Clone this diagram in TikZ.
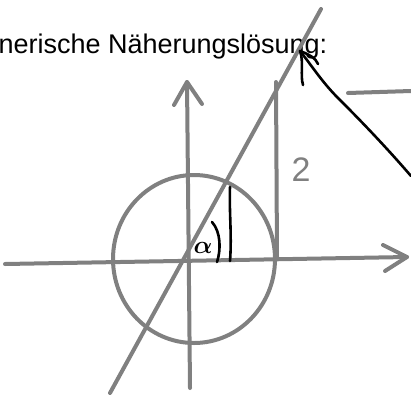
\documentclass[tikz,border=0pt]{standalone}
\usepackage{fontspec}
\setmainfont{Liberation Sans}
\begin{document}
\begin{tikzpicture}[x=1pt,y=-1pt,
  sketch/.style={draw=gray,line width=4pt,line cap=round,line join=round},
  ink/.style={draw=black,line width=2.6pt,line cap=round,line join=round}]
\useasboundingbox (0,0) rectangle (411,394);
% title
\node[anchor=base east,inner sep=0pt,font=\fontsize{27}{30}\selectfont] (title) at (327.5,53) {nerische Näherungslösung:};
% coordinates
\coordinate (xl) at (5,264);
\coordinate (xr) at (407,257);
\coordinate (yb) at (190,388);
\coordinate (yt) at (187,82);
\coordinate (dl) at (110,393);
\coordinate (du) at (321,9);
\coordinate (tt) at (276,82);
\coordinate (tb) at (277,258);
% axes
\draw[sketch] (xl) -- (xr);
\draw[sketch] (383,245) -- (xr) -- (385,271);
\draw[sketch] (yb) -- (yt);
\draw[sketch] (174,105) -- (yt) -- (202,104);
% circle
\draw[sketch] (194,259) ellipse [x radius=81, y radius=84];
% diagonal
\draw[sketch] (dl) -- (du);
% tangent segment
\draw[sketch] (tt) -- (tb);
% short line at top right
\draw[sketch] (348,93) -- (411,91);
% label 2
\node[text=gray,font=\fontsize{34}{36}\selectfont,inner sep=0pt] (two) at (301,170) {2};
% alpha
\node[font=\fontsize{27}{28}\selectfont\boldmath,inner sep=0pt] (alpha) at (203,248) {$\alpha$};
% paren arc
\draw[ink] (212,222) .. controls (221,232) and (221,250) .. (217,262);
% black vertical
\draw[ink] (230,187) .. controls (229,210) and (232,235) .. (230,261);
% black arrow
\coordinate (tip) at (300,51);
\draw[ink] (411,176) .. controls (380,140) and (350,110) .. (338,98)
  .. controls (322,82) and (312,66) .. (tip);
\draw[ink] (tip) .. controls (304,62) and (300,75) .. (303,85);
\draw[ink] (tip) .. controls (308,54) and (316,58) .. (318,64);
\end{tikzpicture}
\end{document}
